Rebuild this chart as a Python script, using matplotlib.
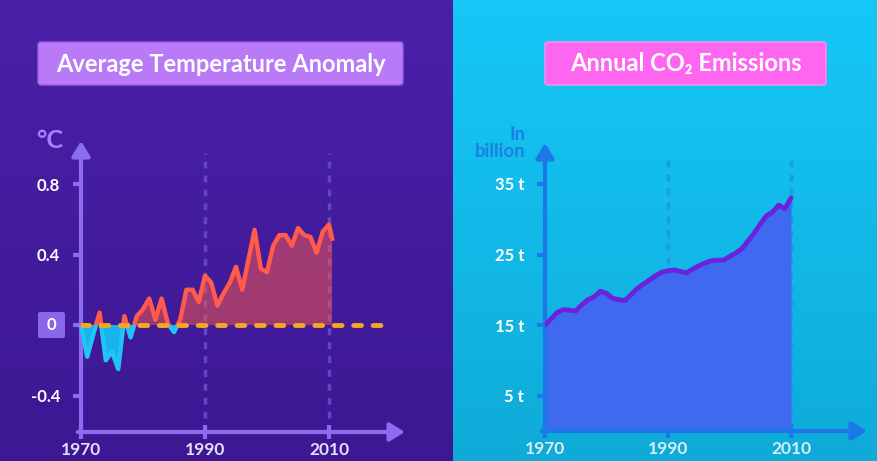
import numpy as np
import matplotlib.pyplot as plt
from matplotlib.patches import Rectangle, FancyBboxPatch
from matplotlib.colors import LinearSegmentedColormap

W, H = 878, 461

# data
temp_years = [1970, 1971, 1972, 1973, 1974, 1975, 1976, 1977, 1978, 1979,
              1980, 1981, 1982, 1983, 1984, 1985, 1986, 1987, 1988, 1989,
              1990, 1991, 1992, 1993, 1994, 1995, 1996, 1997, 1998, 1999,
              2000, 2001, 2002, 2003, 2004, 2005, 2006, 2007, 2008, 2009,
              2010, 2010.5]
temp_anomaly = [0.0, -0.18, -0.05, 0.07, -0.20, -0.15, -0.25, 0.05, -0.07, 0.05,
                0.09, 0.15, 0.03, 0.15, 0.01, -0.04, 0.03, 0.20, 0.20, 0.13,
                0.28, 0.24, 0.11, 0.18, 0.24, 0.33, 0.20, 0.37, 0.54, 0.32,
                0.30, 0.45, 0.51, 0.51, 0.45, 0.55, 0.51, 0.50, 0.41, 0.53,
                0.57, 0.49]

co2_years = list(range(1970, 2011))
co2_emissions = [15.0, 15.9, 16.8, 17.2, 17.1, 17.0, 17.9, 18.6, 19.0, 19.8,
                 19.5, 18.8, 18.6, 18.5, 19.3, 20.2, 20.8, 21.4, 22.0, 22.5,
                 22.7, 22.8, 22.6, 22.4, 22.9, 23.4, 23.8, 24.1, 24.2, 24.2,
                 24.7, 25.2, 25.8, 26.9, 28.0, 29.3, 30.5, 31.0, 32.0, 31.5,
                 33.0]

year_ticks = [1970, 1990, 2010]
grid_years = [1990, 2010]
temp_ticks = [-0.4, 0, 0.4, 0.8]
temp_labels = ['-0.4', '', '0.4', '0.8']   # the 0 gets its own box below
co2_ticks = [5, 15, 25, 35]
co2_labels = ['5 t', '15 t', '25 t', '35 t']

plt.rcParams['font.family'] = ['Lato', 'DejaVu Sans']
plt.rcParams['font.weight'] = 'bold'


def px_rect(x0, y0, x1, y1):
    # pixel box (from top left) -> figure fraction rect
    return [x0 / W, 1 - y1 / H, (x1 - x0) / W, (y1 - y0) / H]


fig = plt.figure(figsize=(W / 100, H / 100), dpi=100)

# background halves + title boxes
bg = fig.add_axes([0, 0, 1, 1])
bg.axis('off')
grad = np.linspace(0, 1, 100).reshape(-1, 1)
bg.imshow(grad, cmap=LinearSegmentedColormap.from_list('l', ['#4b20a9', '#3c1892']),
          extent=(0, 453, H, 0), aspect='auto')
bg.imshow(grad, cmap=LinearSegmentedColormap.from_list('r', ['#15c8f8', '#0fabd8']),
          extent=(453, W, H, 0), aspect='auto')
bg.set_xlim(0, W)
bg.set_ylim(H, 0)

bg.add_patch(FancyBboxPatch((38, 42), 365, 43, boxstyle='round,pad=0,rounding_size=3',
                            fc='#b87af7', ec='#9a5ee6', lw=1))
bg.text(221, 64, 'Average Temperature Anomaly', color='white', fontsize=17,
        ha='center', va='center')
bg.add_patch(FancyBboxPatch((545, 42), 281, 43, boxstyle='round,pad=0,rounding_size=3',
                            fc='#ff66f0', ec='#ff8cf5', lw=1))
bg.text(685.5, 64, 'Annual CO₂ Emissions', color='white', fontsize=17,
        ha='center', va='center')


def setup_axes(ax, axis_color, grid_color, label_color):
    for s in ax.spines.values():
        s.set_visible(False)
    ax.patch.set_alpha(0)
    arrow = dict(arrowstyle='-|>,head_length=0.9,head_width=0.55', color=axis_color,
                 lw=3, shrinkA=0, shrinkB=0)
    ax.annotate('', xy=(0, 1), xytext=(0, 0), xycoords='axes fraction',
                arrowprops=arrow, annotation_clip=False)
    ax.annotate('', xy=(1, 0), xytext=(-0.01, 0), xycoords='axes fraction',
                arrowprops=arrow, annotation_clip=False)
    ax.set_xticks(year_ticks, [str(y) for y in year_ticks])
    ax.tick_params(axis='y', length=6, width=3, color=axis_color, pad=9,
                   labelcolor='white', labelsize=12)
    ax.tick_params(axis='x', direction='inout', length=10, width=3, color=axis_color,
                   pad=2, labelcolor=label_color, labelsize=12.5)
    for y in grid_years:
        ax.axvline(y, ymin=0, ymax=0.96, color=grid_color, lw=2.5,
                   linestyle=(0, (2, 2)), zorder=0)


# ---- left: temperature anomaly
ax1 = fig.add_axes(px_rect(81, 141, 405, 432))
ax1.set_xlim(1970, 1970 + (405 - 81) / 6.2)
ax1.set_ylim(-0.607, 1.044)
setup_axes(ax1, '#8b6cf0', '#6244c4', '#e6defc')
ax1.set_yticks(temp_ticks, temp_labels)

# highlighted zero label
bg.add_patch(FancyBboxPatch((38, 312), 27, 26, boxstyle='round,pad=0,rounding_size=2',
                            fc='#8a66ea', ec='none'))
bg.text(51.5, 325, '0', color='white', fontsize=12, ha='center', va='center')

t = np.array(temp_anomaly)
ax1.fill_between(temp_years, t, 0, where=t >= 0, interpolate=True,
                 color='#ff5a4a', alpha=0.5, lw=0, zorder=2)
ax1.fill_between(temp_years, t, 0, where=t <= 0, interpolate=True,
                 color='#18b2ee', lw=0, zorder=2)
red, = ax1.plot(temp_years, t, color='#ff5a4a', lw=3.2, zorder=3, solid_joinstyle='round')
blue, = ax1.plot(temp_years, t, color='#22c4f4', lw=3.2, zorder=3, solid_joinstyle='round')
red.set_clip_path(Rectangle((1960, 0), 80, 2, transform=ax1.transData))
blue.set_clip_path(Rectangle((1960, -2), 80, 2, transform=ax1.transData))
ax1.plot([1970, 2019.8], [0, 0], color='#f5a623', lw=3.5,
         linestyle=(0, (1.6, 2.4)), dash_capstyle='round', zorder=4)
ax1.text(-0.055, 1.0, '°C', transform=ax1.transAxes, color='#a384ff', fontsize=18,
         ha='right', va='center')

# ---- right: CO2 emissions
ax2 = fig.add_axes(px_rect(545, 143, 867, 431))
ax2.set_xlim(1970, 1970 + (867 - 545) / 6.15)
ax2.set_ylim(0, 40.8)
setup_axes(ax2, '#1a78e8', '#1a9de0', '#d6eef8')
ax2.set_yticks(co2_ticks, co2_labels)
ax2.fill_between(co2_years, co2_emissions, 0, color='#3f6af0', lw=0, zorder=2)
ax2.plot(co2_years, co2_emissions, color='#6a22dc', lw=3.5, zorder=3,
         solid_joinstyle='round', solid_capstyle='round')
ax2.text(-0.06, 1.0, 'In\nbillion', transform=ax2.transAxes, color='#1a80e4',
         fontsize=13.5, ha='right', va='center', multialignment='right', linespacing=1.0)

fig.savefig('out.png', dpi=100)
